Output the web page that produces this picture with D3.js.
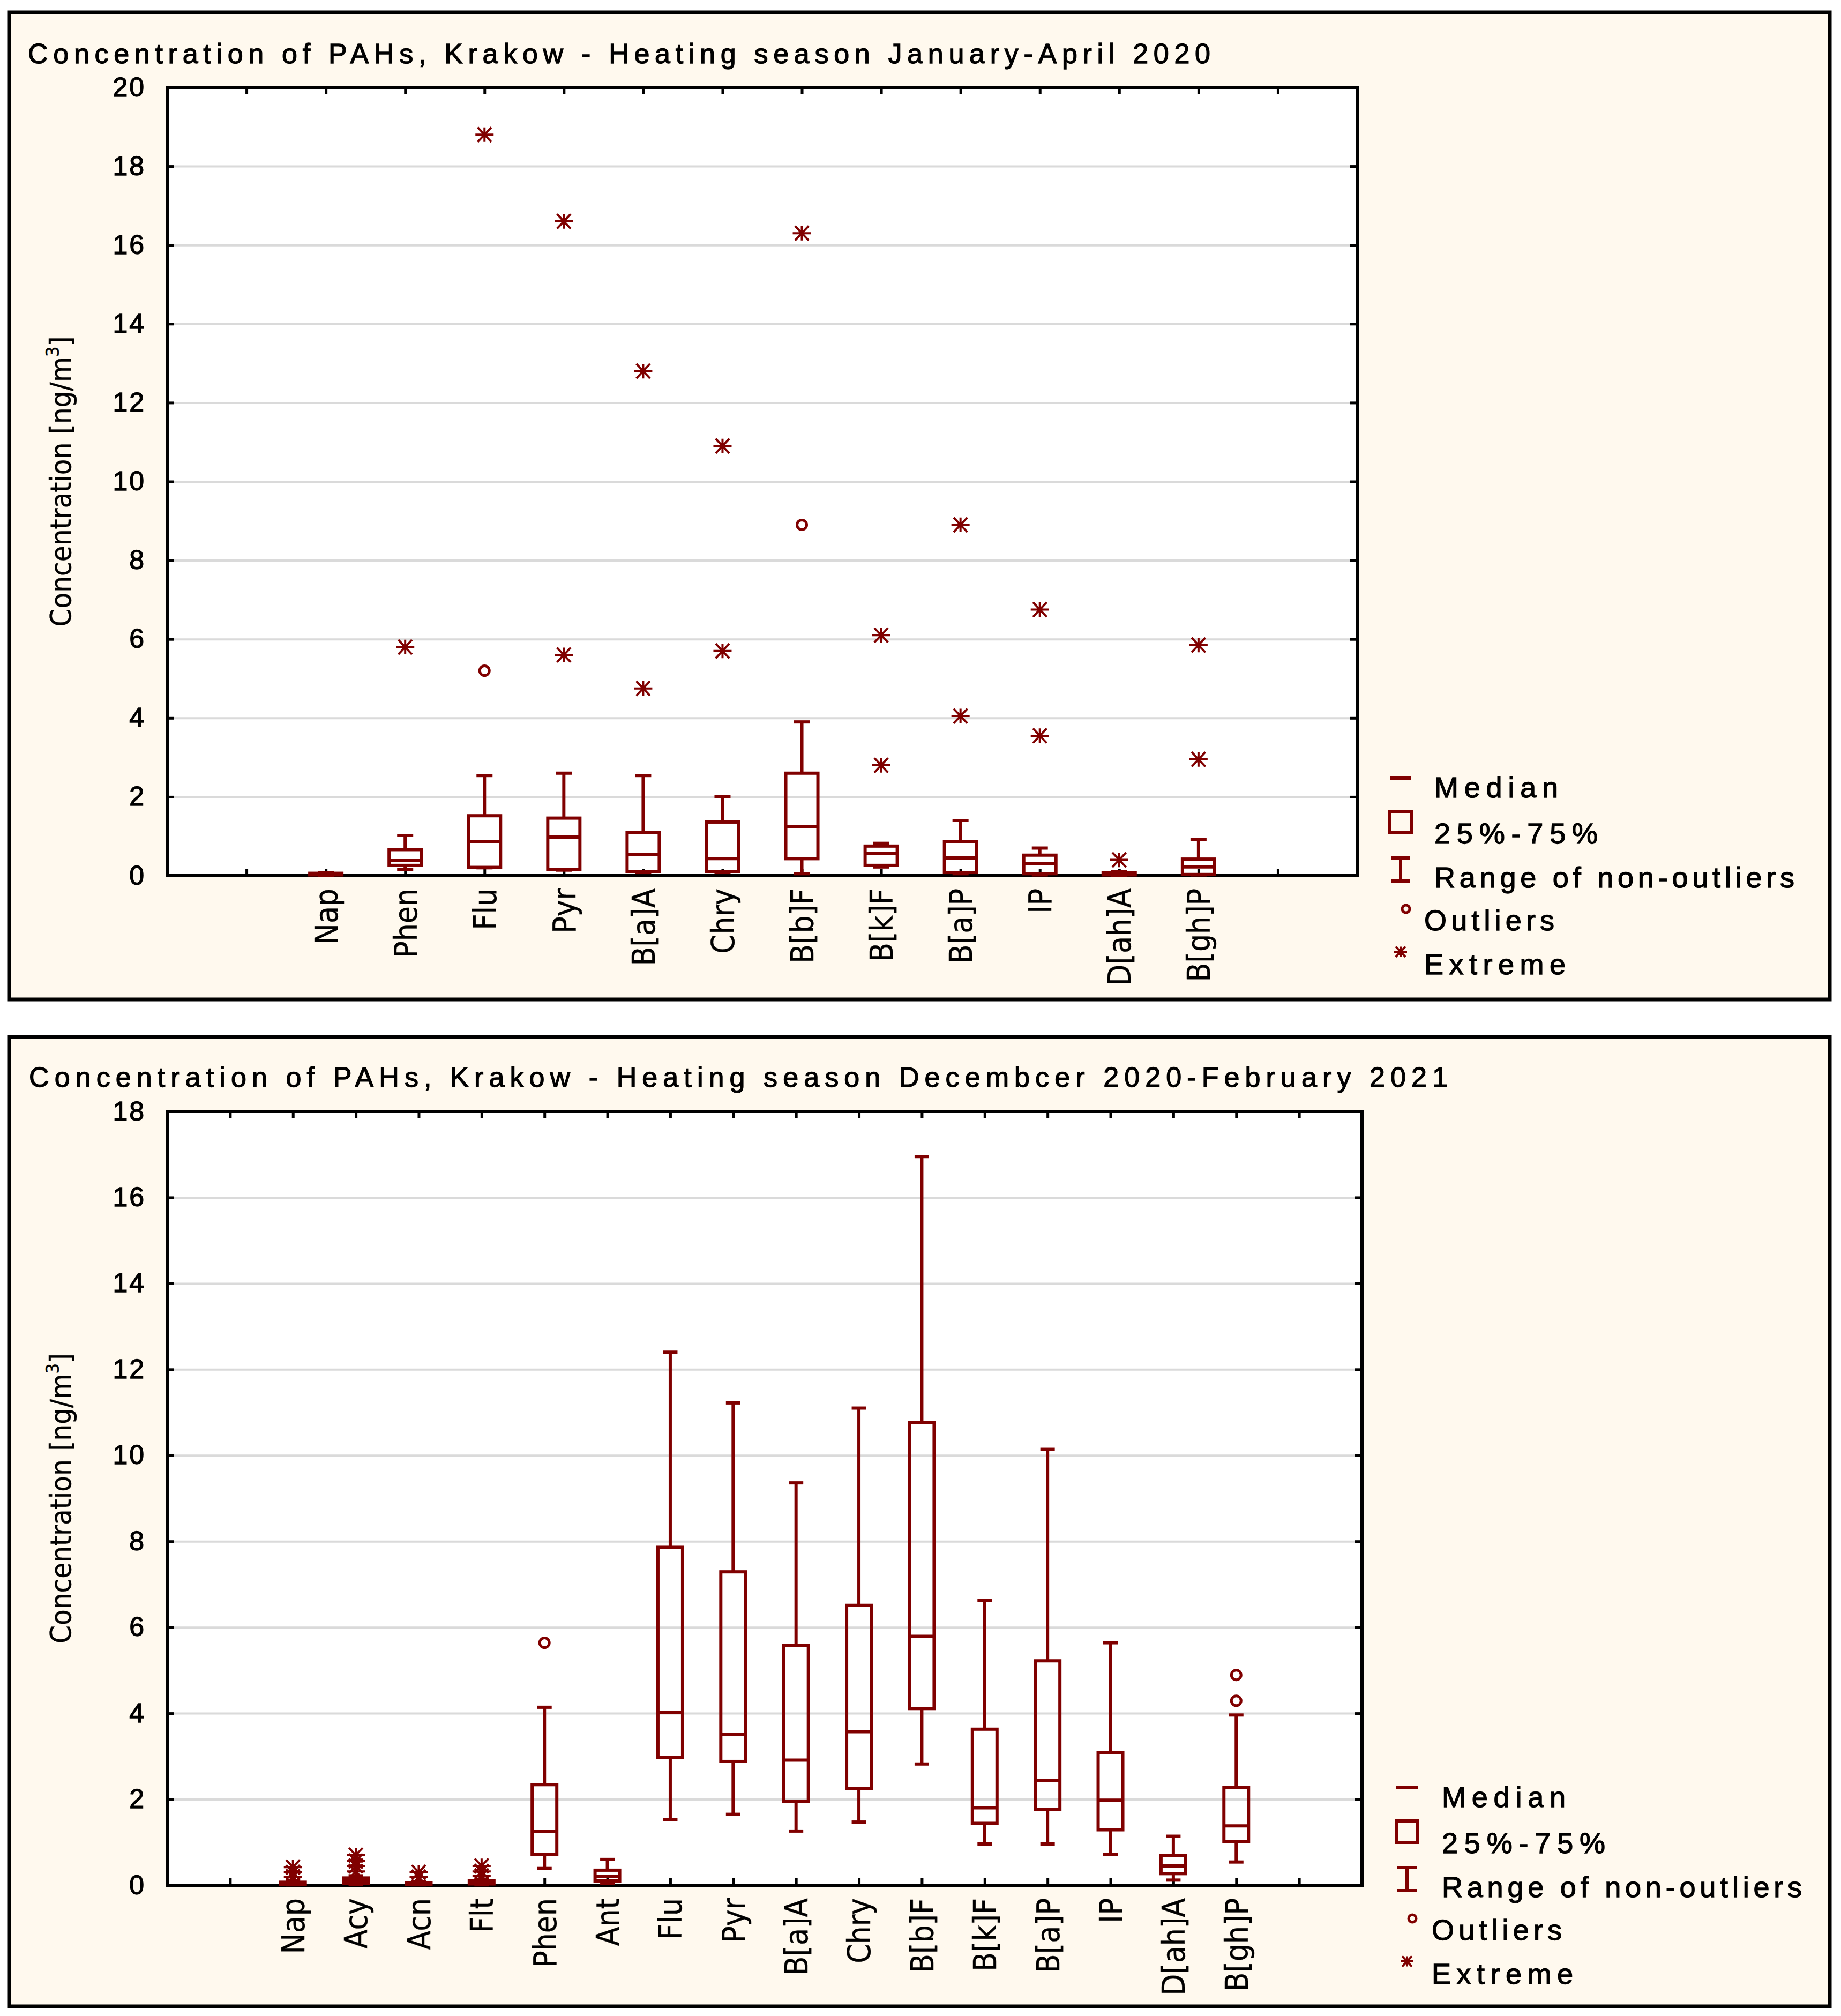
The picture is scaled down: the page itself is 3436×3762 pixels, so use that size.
<!DOCTYPE html>
<html>
<head>
<meta charset="utf-8">
<script src="https://cdn.jsdelivr.net/npm/d3@7"></script>
<style>
  body { margin: 0; background: #fff; }
  text { font-family: "Liberation Sans", Arial, sans-serif; fill: #000; stroke: #000; stroke-width: 1.3px; }
  text.narrow { font-family: "Liberation Sans Narrow", "Arial Narrow", "DejaVu Sans Condensed", sans-serif; stroke-width: 0.4px; }
</style>
</head>
<body>
<div id="chart"></div>
<script>
// ---- data: January-April 2020 ----
const catsJanApr = ["Nap", "Phen", "Flu", "Pyr", "B[a]A", "Chry", "B[b]F", "B[k]F", "B[a]P", "IP", "D[ah]A", "B[gh]P"];
const minJanApr = [0.01, 0.16, 0.20, 0.14, 0.08, 0.08, 0.05, 0.22, 0.05, 0.02, 0.00, 0.02];
const q1JanApr  = [0.02, 0.26, 0.21, 0.15, 0.10, 0.10, 0.43, 0.26, 0.08, 0.05, 0.02, 0.03];
const medJanApr = [0.04, 0.38, 0.87, 0.98, 0.54, 0.43, 1.24, 0.56, 0.45, 0.30, 0.05, 0.22];
const q3JanApr  = [0.06, 0.66, 1.52, 1.46, 1.09, 1.36, 2.60, 0.75, 0.87, 0.52, 0.08, 0.42];
const maxJanApr = [0.07, 1.02, 2.54, 2.60, 2.54, 2.00, 3.90, 0.82, 1.40, 0.70, 0.10, 0.92];
const outJanApr = [[], [], [5.2], [], [], [], [8.9], [], [], [], [], []];
const extJanApr = [[], [5.8], [18.8], [16.6, 5.6], [12.8, 4.75], [10.9, 5.7], [16.3], [6.1, 2.8], [8.9, 4.05], [6.75, 3.55], [0.4], [5.85, 2.95]];
const ticksJanApr = [0, 2, 4, 6, 8, 10, 12, 14, 16, 18, 20];

// ---- data: December 2020-February 2021 ----
const catsDecFeb = ["Nap", "Acy", "Acn", "Flt", "Phen", "Ant", "Flu", "Pyr", "B[a]A", "Chry", "B[b]F", "B[k]F", "B[a]P", "IP", "D[ah]A", "B[gh]P"];
const minDecFeb = [0.01, 0.02, 0.01, 0.01, 0.39, 0.05, 1.53, 1.65, 1.26, 1.47, 2.82, 0.96, 0.96, 0.72, 0.12, 0.54];
const q1DecFeb  = [0.02, 0.05, 0.02, 0.03, 0.72, 0.10, 2.97, 2.88, 1.95, 2.25, 4.11, 1.44, 1.77, 1.29, 0.27, 1.02];
const medDecFeb = [0.04, 0.10, 0.04, 0.06, 1.26, 0.21, 4.02, 3.51, 2.91, 3.57, 5.79, 1.80, 2.43, 1.98, 0.45, 1.38];
const q3DecFeb  = [0.07, 0.17, 0.06, 0.10, 2.34, 0.35, 7.86, 7.29, 5.58, 6.51, 10.77, 3.63, 5.22, 3.09, 0.69, 2.28];
const maxDecFeb = [0.10, 0.22, 0.08, 0.14, 4.14, 0.60, 12.40, 11.22, 9.36, 11.10, 16.95, 6.63, 10.14, 5.64, 1.14, 3.96];
const outDecFeb = [[], [], [], [], [5.64], [], [], [], [], [], [], [], [], [], [], [4.89, 4.29]];
const extDecFeb = [[0.42, 0.3, 0.2], [0.7, 0.56, 0.45, 0.32], [0.3, 0.19], [0.45, 0.32, 0.22], [], [], [], [], [], [], [], [], [], [], [], []];
const ticksDecFeb = [0, 2, 4, 6, 8, 10, 12, 14, 16, 18];

const legendLabels = ["Median", "25%-75%", "Range of non-outliers", "Outliers", "Extreme"];

const W = 3436, H = 3762;
const RED = "#800000";

const svg = d3.select("#chart").append("svg")
    .attr("width", W)
    .attr("height", H);

function asteriskPath(s) {
    const h = s / 2, v = s * 0.4;
    return `M${-h},0H${h}M0,${-v}V${v}M${-h * 0.75},${-v}L${h * 0.75},${v}M${-h * 0.75},${v}L${h * 0.75},${-v}`;
}

function drawPanel(opt) {
    const g = svg.append("g");

    g.append("rect")
        .attr("x", opt.box[0]).attr("y", opt.box[1])
        .attr("width", opt.box[2]).attr("height", opt.box[3])
        .attr("fill", "#fff9ee")
        .attr("stroke", "#000")
        .attr("stroke-width", 7);

    g.append("text")
        .attr("x", opt.titleX).attr("y", opt.titleY)
        .attr("font-size", 52)
        .attr("textLength", opt.titleLen)
        .attr("lengthAdjust", "spacing")
        .text(opt.title);

    const m = opt.plot;
    const domain = ["_a", ...opt.cats, "_b"];
    const x = d3.scalePoint().domain(domain).range([m.left, m.right]).padding(1);
    const y = d3.scaleLinear().domain([0, opt.ymax]).range([m.bottom, m.top]);

    g.append("rect")
        .attr("x", m.left).attr("y", m.top)
        .attr("width", m.right - m.left).attr("height", m.bottom - m.top)
        .attr("fill", "#fff");

    // grid
    g.append("g")
        .attr("transform", `translate(${m.left},0)`)
        .call(d3.axisLeft(y).tickValues(opt.ticks.slice(1, -1)).tickSize(-(m.right - m.left)).tickFormat(""))
        .call(s => s.select(".domain").remove())
        .call(s => s.selectAll("line").attr("stroke", "#dadada").attr("stroke-width", 4));

    const tl = 13;
    // left axis
    g.append("g")
        .attr("transform", `translate(${m.left},0)`)
        .call(d3.axisLeft(y).tickValues(opt.ticks).tickSize(-tl).tickPadding(40).tickFormat(d3.format("d")))
        .call(s => s.select(".domain").remove())
        .call(s => s.selectAll("line").attr("stroke", "#000").attr("stroke-width", 5))
        .call(s => s.selectAll("text").attr("font-size", 50).attr("letter-spacing", 3).attr("fill", "#000"));

    // right axis
    g.append("g")
        .attr("transform", `translate(${m.right},0)`)
        .call(d3.axisRight(y).tickValues(opt.ticks).tickSize(-tl).tickFormat(""))
        .call(s => s.select(".domain").remove())
        .call(s => s.selectAll("line").attr("stroke", "#000").attr("stroke-width", 5));

    // top axis
    g.append("g")
        .attr("transform", `translate(0,${m.top})`)
        .call(d3.axisTop(x).tickSize(-tl).tickFormat(""))
        .call(s => s.select(".domain").remove())
        .call(s => s.selectAll("line").attr("stroke", "#000").attr("stroke-width", 5));

    // bottom axis
    g.append("g")
        .attr("transform", `translate(0,${m.bottom})`)
        .call(d3.axisBottom(x).tickSize(-tl).tickFormat(d => d.startsWith("_") ? "" : d))
        .call(s => s.select(".domain").remove())
        .call(s => s.selectAll("line").attr("stroke", "#000").attr("stroke-width", 5))
        .call(s => s.selectAll("text")
            .attr("class", "narrow")
            .attr("font-size", 58)
            .attr("fill", "#000")
            .attr("text-anchor", "end")
            .attr("transform", "rotate(-90)")
            .attr("x", -24).attr("y", 0).attr("dy", "0.36em"));

    // frame
    g.append("rect")
        .attr("x", m.left).attr("y", m.top)
        .attr("width", m.right - m.left).attr("height", m.bottom - m.top)
        .attr("fill", "none")
        .attr("stroke", "#000")
        .attr("stroke-width", 6);

    // y label
    const yl = g.append("text")
        .attr("class", "narrow")
        .attr("font-size", 54)
        .attr("text-anchor", "middle")
        .attr("transform", `translate(${opt.ylabX},${(m.top + m.bottom) / 2 + opt.ylabShift}) rotate(-90)`);
    yl.append("tspan").text("Concentration [ng/m");
    yl.append("tspan").attr("font-size", 34).attr("dy", -22).text("3");
    yl.append("tspan").attr("dy", 22).text("]");

    // boxes
    const bw = opt.boxW, cw = opt.capW;
    const bx = g.append("g").attr("fill", "none").attr("stroke", RED).attr("stroke-width", 6);
    opt.cats.forEach((c, i) => {
        const cx = x(c);
        const b = bx.append("g");
        b.append("line").attr("x1", cx).attr("x2", cx).attr("y1", y(opt.max[i])).attr("y2", y(opt.q3[i]));
        b.append("line").attr("x1", cx).attr("x2", cx).attr("y1", y(opt.q1[i])).attr("y2", y(opt.min[i]));
        b.append("line").attr("x1", cx - cw / 2).attr("x2", cx + cw / 2).attr("y1", y(opt.max[i])).attr("y2", y(opt.max[i]));
        b.append("line").attr("x1", cx - cw / 2).attr("x2", cx + cw / 2).attr("y1", y(opt.min[i])).attr("y2", y(opt.min[i]));
        b.append("rect")
            .attr("x", cx - bw / 2).attr("y", y(opt.q3[i]))
            .attr("width", bw).attr("height", Math.max(1, y(opt.q1[i]) - y(opt.q3[i])));
        b.append("line").attr("x1", cx - bw / 2).attr("x2", cx + bw / 2).attr("y1", y(opt.med[i])).attr("y2", y(opt.med[i]));

        opt.out[i].forEach(v => {
            bx.append("circle").attr("cx", cx).attr("cy", y(v)).attr("r", 9).attr("stroke-width", 5);
        });
        opt.ext[i].forEach(v => {
            bx.append("path").attr("transform", `translate(${cx},${y(v)})`)
                .attr("d", asteriskPath(34)).attr("stroke-width", 4);
        });
    });

    // legend
    const lx = m.right + opt.legSym, tx = m.right + opt.legText;
    const rows = [-146, -60, 22, 102, 184].map(d => m.bottom + d);
    const lg = g.append("g").attr("fill", "none").attr("stroke", RED).attr("stroke-width", 6);
    lg.append("line").attr("x1", lx - 20).attr("x2", lx + 20).attr("y1", rows[0] - 36).attr("y2", rows[0] - 36);
    lg.append("rect").attr("x", lx - 20).attr("y", rows[1] - 60).attr("width", 40).attr("height", 40);
    lg.append("line").attr("x1", lx).attr("x2", lx).attr("y1", rows[2] - 55).attr("y2", rows[2] - 12);
    lg.append("line").attr("x1", lx - 18).attr("x2", lx + 18).attr("y1", rows[2] - 55).attr("y2", rows[2] - 55);
    lg.append("line").attr("x1", lx - 18).attr("x2", lx + 18).attr("y1", rows[2] - 12).attr("y2", rows[2] - 12);
    lg.append("circle").attr("cx", lx + 10).attr("cy", rows[3] - 40).attr("r", 7).attr("stroke-width", 5);
    lg.append("path").attr("transform", `translate(${lx},${rows[4] - 42})`).attr("d", asteriskPath(24)).attr("stroke-width", 4);

    const lens = [231, 305, 672, 243, 264];
    const offs = [0, 0, 0, -19, -19];
    legendLabels.forEach((t, i) => {
        g.append("text")
            .attr("x", tx + offs[i]).attr("y", rows[i])
            .attr("font-size", 54)
            .attr("textLength", lens[i])
            .attr("lengthAdjust", "spacing")
            .text(t);
    });
}

drawPanel({
    box: [17, 23, 3398, 1842],
    title: "Concentration of PAHs, Krakow - Heating season January-April 2020",
    titleX: 52, titleY: 118, titleLen: 2207,
    plot: { left: 312, right: 2533, top: 163, bottom: 1634 },
    ymax: 20, ticks: ticksJanApr,
    cats: catsJanApr,
    min: minJanApr, q1: q1JanApr, med: medJanApr, q3: q3JanApr, max: maxJanApr,
    out: outJanApr, ext: extJanApr,
    boxW: 60, capW: 30,
    ylabX: 132, ylabShift: 0,
    legSym: 81, legText: 144
});

drawPanel({
    box: [17, 1935, 3398, 1809],
    title: "Concentration of PAHs, Krakow - Heating season Decembcer 2020-February 2021",
    titleX: 54, titleY: 2028, titleLen: 2648,
    plot: { left: 312, right: 2542, top: 2074, bottom: 3518 },
    ymax: 18, ticks: ticksDecFeb,
    cats: catsDecFeb,
    min: minDecFeb, q1: q1DecFeb, med: medDecFeb, q3: q3DecFeb, max: maxDecFeb,
    out: outDecFeb, ext: extDecFeb,
    boxW: 46, capW: 27,
    ylabX: 132, ylabShift: 0,
    legSym: 84, legText: 149
});
</script>
</body>
</html>
